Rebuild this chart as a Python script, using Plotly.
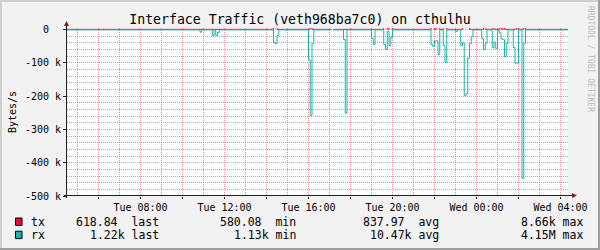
import pandas as pd
import plotly.graph_objects as go

# ---------------- data ----------------
TITLE = "Interface Traffic (veth968ba7c0) on cthulhu"
Y_TITLE = "Bytes/s"
WATERMARK = "RRDTOOL / TOBI OETIKER"

x_range = ["2024-01-02 04:30:00", "2024-01-03 04:21:26"]   # Tue -> Wed

tx_time = [
    "2024-01-02 04:25", "2024-01-02 14:20", "2024-01-02 14:30",
    "2024-01-02 16:05", "2024-01-02 16:10",
    "2024-01-02 17:05", "2024-01-02 17:07", "2024-01-02 17:10",
    "2024-01-02 19:35", "2024-01-02 19:45", "2024-01-02 19:50", "2024-01-02 20:00",
    "2024-01-02 21:50", "2024-01-02 22:00", "2024-01-02 22:05", "2024-01-02 22:15",
    "2024-01-02 22:25", "2024-01-02 22:35",
    "2024-01-02 23:20", "2024-01-02 23:40",
    "2024-01-03 00:20", "2024-01-03 00:25",
    "2024-01-03 00:45", "2024-01-03 00:50",
    "2024-01-03 01:05", "2024-01-03 01:10", "2024-01-03 01:15", "2024-01-03 01:20",
    "2024-01-03 01:55", "2024-01-03 02:00",
    "2024-01-03 02:15", "2024-01-03 02:20", "2024-01-03 04:30",
]
tx_val = [
    600, 6000, 600,
    7000, 600,
    600, None, 600,
    6500, 600, 6000, 600,
    6500, 600, 6000, 600,
    5500, 600,
    7000, 600,
    6000, 600,
    5500, 600,
    6000, 600, 6000, 600,
    6000, 600,
    8660, 600, 619,
]

rx_time = [
    "2024-01-02 04:25",
    "2024-01-02 10:50", "2024-01-02 10:55",
    "2024-01-02 11:25", "2024-01-02 11:30",
    "2024-01-02 11:35", "2024-01-02 11:40", "2024-01-02 11:45",
    "2024-01-02 14:20", "2024-01-02 14:25", "2024-01-02 14:30", "2024-01-02 14:35",
    "2024-01-02 16:00", "2024-01-02 16:05", "2024-01-02 16:10", "2024-01-02 16:15",
    "2024-01-02 17:05", "2024-01-02 17:07", "2024-01-02 17:10",
    "2024-01-02 17:40", "2024-01-02 17:45", "2024-01-02 17:50",
    "2024-01-02 19:00", "2024-01-02 19:05", "2024-01-02 19:10",
    "2024-01-02 19:35", "2024-01-02 19:40", "2024-01-02 19:45", "2024-01-02 19:50",
    "2024-01-02 19:55", "2024-01-02 20:00",
    "2024-01-02 21:50", "2024-01-02 21:55", "2024-01-02 22:00", "2024-01-02 22:05",
    "2024-01-02 22:10", "2024-01-02 22:15",
    "2024-01-02 22:25", "2024-01-02 22:30", "2024-01-02 22:35",
    "2024-01-02 23:00", "2024-01-02 23:05",
    "2024-01-02 23:15", "2024-01-02 23:20", "2024-01-02 23:25", "2024-01-02 23:30",
    "2024-01-02 23:35", "2024-01-02 23:40", "2024-01-02 23:45", "2024-01-02 23:50",
    "2024-01-03 00:15", "2024-01-03 00:20", "2024-01-03 00:25", "2024-01-03 00:30",
    "2024-01-03 00:45", "2024-01-03 00:50", "2024-01-03 00:55", "2024-01-03 01:00",
    "2024-01-03 01:05", "2024-01-03 01:10", "2024-01-03 01:15", "2024-01-03 01:20",
    "2024-01-03 01:25", "2024-01-03 01:30",
    "2024-01-03 01:45", "2024-01-03 01:50", "2024-01-03 01:55", "2024-01-03 02:00",
    "2024-01-03 02:10", "2024-01-03 02:15", "2024-01-03 02:20",
    "2024-01-03 04:30",
]
rx_val = [
    -1200,
    -8000, -1200,
    -18000, -1200,
    -18000, -9000, -1200,
    -39000, -42000, -18000, -1200,
    -91000, -258000, -42000, -1200,
    -1200, None, -1200,
    -30000, -251000, -1200,
    -27000, -45000, -1200,
    -45000, -60000, -6000, -48000,
    -24000, -1200,
    -45000, -51000, -34000, -34000,
    -75000, -1200,
    -48000, -99000, -1200,
    -6000, -1200,
    -48000, -40000, -199000, -193000,
    -86000, -42000, -22000, -1200,
    -28000, -60000, -42000, -1200,
    -55000, -38000, -57000, -2500,
    -10000, -28000, -30000, -82000,
    -42000, -1200,
    -54000, -101000, -101000, -1200,
    -447000, -42000, -1200,
    -1220,
]

series_names = ["tx", "rx"]
series_colors = ["#DC143C", "#20B2AA"]
stat_last = ["618.84", "1.22k"]
stat_min = ["580.08", "1.13k"]
stat_avg = ["837.97", "10.47k"]
stat_max = ["8.66k", "4.15M"]

y_ticks = [-500000, -400000, -300000, -200000, -100000, 0]
y_ticktext = ["-500 k", "-400 k", "-300 k", "-200 k", "-100 k", "0\u00a0\u00a0"]
y_range = [-500000, 4500]

# ---------------- layout constants (pixels) ----------------
W, H = 600, 250
L, R, T, B = 67, 568, 28, 196
FONT = "DejaVu Sans Mono"
BG = "#F2F2F2"
GRID = "rgba(143,143,143,0.75)"
MGRID = "rgba(222,79,79,0.6)"
AXIS = "#1F1F1F"
ARROW = "#801F1F"
DASH = "1px,1px"


def px(xp):
    return (xp - L) / (R - L)


def py(yp):
    return (B - yp) / (B - T)


fig = go.Figure()
fig.add_trace(go.Scatter(x=tx_time, y=tx_val, mode="lines", line_shape="hv",
                         line=dict(color=series_colors[0], width=1),
                         connectgaps=False, name=series_names[0]))
fig.add_trace(go.Scatter(x=rx_time, y=rx_val, mode="lines", line_shape="hv",
                         line=dict(color=series_colors[1], width=1),
                         connectgaps=False, name=series_names[1]))
# empty trace that carries the overlaid (major-grid) axes
fig.add_trace(go.Scatter(x=[], y=[], xaxis="x2", yaxis="y2", showlegend=False,
                         hoverinfo="skip"))

# x grid: minor every odd hour, major every 2 h (labelled every 4 h)
hours = pd.date_range(pd.Timestamp(x_range[0]).ceil("1h"),
                      pd.Timestamp(x_range[1]), freq="1h")
x_minor = [d.strftime("%Y-%m-%d %H:%M") for d in hours if d.hour % 2 == 1]
x_major = [d.strftime("%Y-%m-%d %H:%M") for d in hours if d.hour % 2 == 0]
x_major_text = [d.strftime("%a %H:%M") if d.hour % 4 == 0 else ""
                for d in hours if d.hour % 2 == 0]
y_minor = [v for v in range(-480000, 1, 20000) if v % 100000 != 0]

tickfont = dict(family=FONT, size=10, color="#000")

fig.update_layout(
    xaxis=dict(type="date", range=x_range, tickmode="array", tickvals=x_minor,
               showticklabels=False, ticks="",
               showgrid=True, gridcolor=GRID, griddash=DASH, gridwidth=1,
               showline=False, zeroline=False, fixedrange=True),
    yaxis=dict(range=y_range, tickmode="array", tickvals=y_minor,
               showticklabels=False, ticks="",
               showgrid=True, gridcolor=GRID, griddash=DASH, gridwidth=1,
               showline=False, zeroline=False, fixedrange=True),
    xaxis2=dict(type="date", range=x_range, overlaying="x", anchor="y2", side="bottom",
                tickmode="array", tickvals=x_major, ticktext=x_major_text,
                ticks="outside", ticklen=2, tickcolor=AXIS, tickfont=tickfont,
                showgrid=True, gridcolor=MGRID, griddash=DASH, gridwidth=1,
                showline=False, zeroline=False, fixedrange=True),
    yaxis2=dict(range=y_range, overlaying="y", anchor="x2", side="left",
                tickmode="array", tickvals=y_ticks, ticktext=y_ticktext,
                ticks="outside", ticklen=3, tickcolor=AXIS, tickfont=tickfont,
                showgrid=True, gridcolor=MGRID, griddash=DASH, gridwidth=1,
                showline=False, zeroline=False, fixedrange=True),
)

shapes = []
# 3D border
for (x0, y0, x1, y1, c) in [(0, 0, 600, 2, "#CFCFCF"), (0, 0, 2, 250, "#CFCFCF"),
                            (0, 248, 600, 250, "#9E9E9E"), (598, 0, 600, 250, "#9E9E9E")]:
    shapes.append(dict(type="rect", xref="paper", yref="paper",
                       x0=px(x0), x1=px(x1), y0=py(y0), y1=py(y1),
                       fillcolor=c, line=dict(width=0), layer="above"))
# axes lines + arrows
shapes.append(dict(type="line", xref="paper", yref="paper",
                   x0=px(64), x1=px(572), y0=py(195.5), y1=py(195.5),
                   line=dict(color=AXIS, width=1)))
shapes.append(dict(type="line", xref="paper", yref="paper",
                   x0=px(66.5), x1=px(66.5), y0=py(198), y1=py(25),
                   line=dict(color=AXIS, width=1)))
shapes.append(dict(type="path", xref="paper", yref="paper",
                   path=f"M {px(572)} {py(193)} L {px(577)} {py(195.5)} L {px(572)} {py(198)} Z",
                   fillcolor=ARROW, line=dict(width=0)))
shapes.append(dict(type="path", xref="paper", yref="paper",
                   path=f"M {px(64)} {py(26)} L {px(66.5)} {py(21)} L {px(69)} {py(26)} Z",
                   fillcolor=ARROW, line=dict(width=0)))

annotations = []
row_y = [221.8, 235.0]


def fmt(v, word):
    return v + ("\u00a0" if v[-1].isdigit() else "") + "\u00a0" + word


for i in range(2):
    y0 = row_y[i]
    shapes.append(dict(type="rect", xref="paper", yref="paper",
                       x0=px(15.5), x1=px(22), y0=py(y0 - 3.8), y1=py(y0 + 3.6),
                       fillcolor=series_colors[i], line=dict(color="#000", width=1)))
    items = [(series_names[i], 30, "left"),
             (fmt(stat_last[i], "last"), 160, "right"),
             (fmt(stat_min[i], "min"), 296.5, "right"),
             (fmt(stat_avg[i], "avg"), 440, "right"),
             (fmt(stat_max[i], "max"), 584, "right")]
    for txt, xx, anc in items:
        annotations.append(dict(text=txt, xref="paper", yref="paper",
                                x=px(xx), y=py(y0), xanchor=anc, yanchor="middle",
                                showarrow=False, borderpad=0,
                                font=dict(family=FONT, size=11.5, color="#000")))

annotations.append(dict(text=Y_TITLE, xref="paper", yref="paper",
                        x=px(12), y=py(112), textangle=-90,
                        xanchor="center", yanchor="middle", showarrow=False,
                        font=dict(family=FONT, size=10, color="#000")))
annotations.append(dict(text=WATERMARK, xref="paper", yref="paper",
                        x=px(590.5), y=py(58.5), textangle=90,
                        xanchor="center", yanchor="middle", showarrow=False,
                        font=dict(family=FONT, size=8, color="#BDBDBD")))

fig.update_layout(
    width=W, height=H,
    margin=dict(l=L, r=W - R, t=T, b=H - B, pad=0),
    paper_bgcolor=BG, plot_bgcolor="#FFFFFF",
    showlegend=False,
    title=dict(text=TITLE, x=0.5, xref="container", xanchor="center",
               y=1 - 19.5 / H, yanchor="middle",
               font=dict(family=FONT, size=13.2, color="#000")),
    shapes=shapes, annotations=annotations,
)

fig.write_html("out.html")
